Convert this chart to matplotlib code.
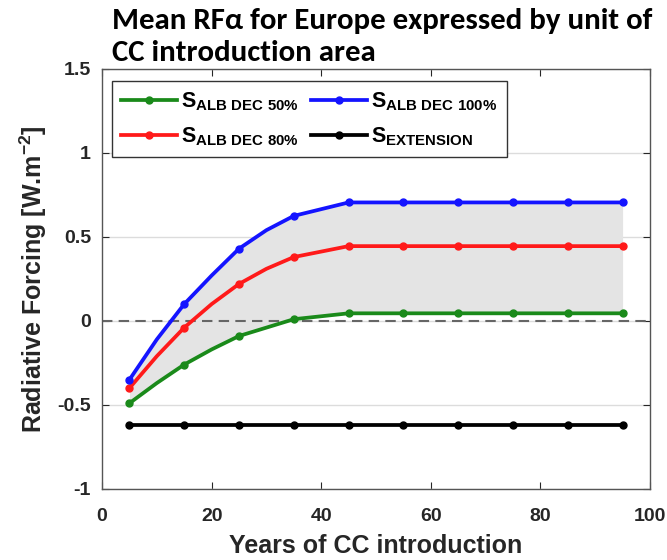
import numpy as np
import matplotlib
matplotlib.use("Agg")
import matplotlib.pyplot as plt

# Data (markers every 10 years, extra line points in between)
years = [5, 10, 15, 20, 25, 30, 35, 45, 55, 65, 75, 85, 95]
alb_dec_50 = [-0.49, -0.37, -0.26, -0.17, -0.09, -0.04, 0.01, 0.045, 0.045, 0.045, 0.045, 0.045, 0.045]
alb_dec_80 = [-0.40, -0.21, -0.04, 0.10, 0.22, 0.31, 0.38, 0.445, 0.445, 0.445, 0.445, 0.445, 0.445]
alb_dec_100 = [-0.35, -0.11, 0.10, 0.27, 0.43, 0.54, 0.625, 0.705, 0.705, 0.705, 0.705, 0.705, 0.705]
extension = [-0.62] * len(years)
marker_idx = [0, 2, 4, 6, 7, 8, 9, 10, 11, 12]
title_lines = ['Mean RF\u03b1 for Europe expressed by unit of', 'CC introduction area']

plt.rcParams['font.family'] = ['Liberation Sans', 'DejaVu Sans']
plt.rcParams['font.weight'] = 'bold'
plt.rcParams['axes.labelweight'] = 'bold'
plt.rcParams['mathtext.fontset'] = 'custom'
plt.rcParams['mathtext.rm'] = 'Liberation Sans:bold'
plt.rcParams['mathtext.it'] = 'Liberation Sans:bold'
plt.rcParams['mathtext.bf'] = 'Liberation Sans:bold'
plt.rcParams['mathtext.default'] = 'rm'

dark = '#262626'
fig = plt.figure(figsize=(6.67, 5.6), dpi=100)
ax = fig.add_axes([0.153, 0.127, 0.8215, 0.75])

ax.fill_between(years, alb_dec_50, alb_dec_100, color='#e4e4e4', lw=0, zorder=1)
ax.axhline(0, color='#666666', ls=(0, (5, 3)), lw=1.5, zorder=2)

lw = 2.7
l50, = ax.plot(years, alb_dec_50, color='#1a8a1a', lw=lw, marker='o', ms=5, markevery=marker_idx, zorder=3)
l80, = ax.plot(years, alb_dec_80, color='#ff1a1a', lw=lw, marker='o', ms=5, markevery=marker_idx, zorder=3)
l100, = ax.plot(years, alb_dec_100, color='#1414ff', lw=lw, marker='o', ms=5, markevery=marker_idx, zorder=3)
lext, = ax.plot(years, extension, color='black', lw=lw, marker='o', ms=5, markevery=marker_idx, zorder=3)

ax.set_xlim(0, 100)
ax.set_ylim(-1, 1.5)
ax.set_xticks([0, 20, 40, 60, 80, 100])
ax.set_yticks([-1, -0.5, 0, 0.5, 1, 1.5])
ax.set_yticklabels(['-1', '-0.5', '0', '0.5', '1', '1.5'])
ax.yaxis.grid(True, color='#dcdcdc', lw=1)
ax.set_axisbelow(True)
ax.tick_params(direction='in', top=True, right=True, length=5, color=dark,
               labelsize=14, labelcolor=dark)
ax.tick_params(axis='x', pad=14)
ax.tick_params(axis='y', pad=8)
for s in ax.spines.values():
    s.set_color('#555555')
    s.set_linewidth(1)

ax.set_xlabel('Years of CC introduction', fontsize=18, color=dark, labelpad=6)
ax.set_ylabel(r'Radiative Forcing [W.m$^{-2}$]', fontsize=18, color=dark, labelpad=6)

leg = ax.legend([l50, l80, l100, lext],
                [r'S$_{ALB\ DEC\ 50\%}$', r'S$_{ALB\ DEC\ 80\%}$',
                 r'S$_{ALB\ DEC\ 100\%}$', r'S$_{EXTENSION}$'],
                ncol=2, loc='upper left', bbox_to_anchor=(0.018, 0.971), borderaxespad=0,
                fontsize=15.5, handlelength=2.6, handletextpad=0.2, columnspacing=0.55,
                labelspacing=0.6, borderpad=0.42, frameon=True, fancybox=False,
                edgecolor='#333333', framealpha=1)
leg.get_frame().set_linewidth(1)

title_font = ['Carlito', 'Liberation Sans Narrow', 'Lato', 'DejaVu Sans']
for line, base in zip(title_lines, [29, 61]):
    fig.text(112 / 667, 1 - base / 560, line, family=title_font, fontweight='bold',
             fontsize=22.2, va='baseline', ha='left')

fig.savefig('out.png', dpi=100)
